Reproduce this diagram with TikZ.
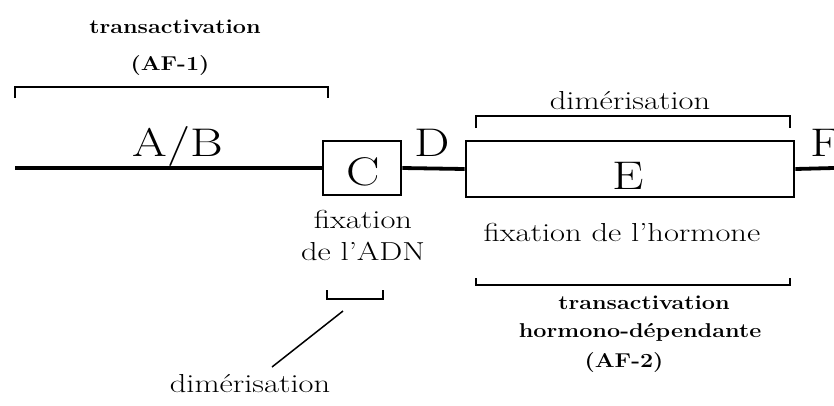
\documentclass[tikz,border=0pt]{standalone}
\newcommand{\wide}[1]{\scalebox{1.25}[1]{#1}}
\newcommand{\wideb}[1]{\scalebox{1.17}[1]{#1}}
\begin{document}
\begin{tikzpicture}[x=1pt,y=-1pt,
  line/.style={line width=3.8pt},
  box/.style={draw,line width=2.6pt,inner sep=0pt},
  brk/.style={line width=2.2pt},
  big/.style={font=\fontsize{40}{42}\selectfont, inner sep=0pt},
  mid/.style={font=\fontsize{26}{32}\selectfont, align=center, inner sep=0pt},
  bld/.style={font=\bfseries\fontsize{20}{24}\selectfont, inner sep=0pt}]
\useasboundingbox (0,0) rectangle (834,405);
% boxes
\node[box, minimum width=78pt, minimum height=54pt] (C) at (362,168) {};
\node[box, minimum width=328pt, minimum height=56pt] (E) at (630,169) {};
\coordinate (L) at (15,168);
\coordinate (R) at (834,168);
\draw[line] (L) -- (C.west);
\draw[line] (C.east) -- (E.west);
\draw[line] (E.east) -- (R);
% letters
\node[big] (tC) at (363,172) {\wide{C}};
\node[big] (tE) at (628,176) {\wide{E}};
\node[big] (tAB) at (178,146) {\wide{A/B}};
\node[big] (tD) at (432,143) {\wide{D}};
\node[big] (tF) at (826,143) {\wide{F}};
% AF-1
\node[bld] (af1a) at (175,27) {\wideb{transactivation}};
\node[bld] (af1b) at (170,66) {\wideb{(AF-1)}};
\coordinate (a1) at (15,98); \coordinate (a2) at (328,98);
\draw[brk] (a1) -- ++(0,-11) -| (a2);
% top dimerisation
\node[mid] (dimtop) at (630,101) {\wide{dimérisation}};
\coordinate (b1) at (476,128); \coordinate (b2) at (790,128);
\draw[brk] (b1) -- ++(0,-12) -| (b2);
% fixation texts
\node[mid] (fixADN) at (363,235) {\wide{fixation}\\\wide{de l'ADN}};
\node[mid] (fixH) at (622,232) {\wide{fixation de l'hormone}};
% bottom bracket AF-2
\coordinate (c1) at (476,278); \coordinate (c2) at (790,278);
\draw[brk] (c1) -- ++(0,7) -| (c2);
\node[bld] (af2a) at (644,303) {\wideb{transactivation}};
\node[bld] (af2b) at (640,332) {\wideb{hormono-dépendante}};
\node[bld] (af2c) at (624,363) {\wideb{(AF-2)}};
% small bracket
\coordinate (d1) at (327,290); \coordinate (d2) at (383,290);
\draw[brk] (d1) -- ++(0,9) -| (d2);
\node[mid] (dimbot) at (250,384) {\wide{dimérisation}};
\coordinate (p) at (343,311);
\coordinate (q) at (272,367);
\draw[line width=1.5pt] (p) -- (q);
\end{tikzpicture}
\end{document}
